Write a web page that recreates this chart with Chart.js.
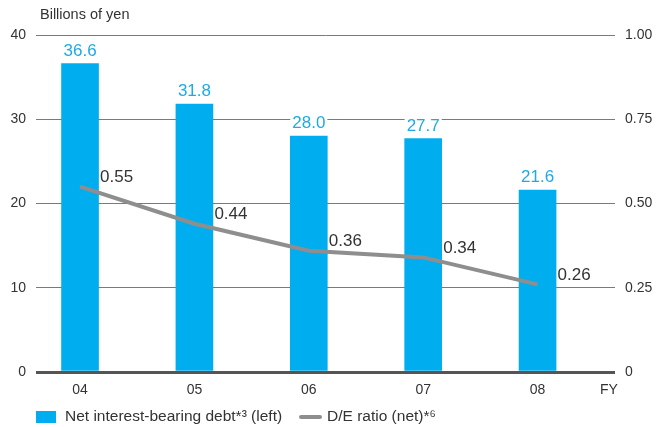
<!DOCTYPE html>
<html>
<head>
<meta charset="utf-8">
<script src="https://cdn.jsdelivr.net/npm/chart.js@4.4.0/dist/chart.umd.min.js"></script>
<style>
  html, body { margin: 0; padding: 0; background: #fff; }
  #wrap { width: 668px; height: 427px; position: relative; }
</style>
</head>
<body>
<div id="wrap"><canvas id="debtChart"></canvas></div>
<script>
// Fiscal years and values
const years = ['04', '05', '06', '07', '08'];
const netDebt = [36.6, 31.8, 28.0, 27.7, 21.6];   // billions of yen (left)
const deRatio = [0.55, 0.44, 0.36, 0.34, 0.26];   // D/E ratio (right)
const leftTicks = [0, 10, 20, 30, 40];
const rightTicks = [0, 0.25, 0.5, 0.75, 1.0];

const FONT = '"Liberation Sans", Arial, sans-serif';
const BLUE = '#00aeef';
const GREY = '#8e8e8e';

// value labels above bars and beside line points, plus unit text and legend
const annotate = {
    id: 'annotate',
    afterDatasetsDraw(chart) {
        const ctx = chart.ctx;
        const area = chart.chartArea;
        ctx.save();

        // bar values
        ctx.font = '17px ' + FONT;
        ctx.textAlign = 'center';
        ctx.textBaseline = 'bottom';
        chart.getDatasetMeta(0).data.forEach((bar, i) => {
            const txt = netDebt[i].toFixed(1);
            const w = ctx.measureText(txt).width;
            ctx.fillStyle = '#fff';
            ctx.fillRect(bar.x - w / 2 - 2, bar.y - 21, w + 4, 18);
            ctx.fillStyle = '#1fa9e6';
            ctx.fillText(txt, bar.x, bar.y - 4);
        });

        // ratio values
        ctx.textAlign = 'left';
        ctx.textBaseline = 'middle';
        ctx.fillStyle = '#333';
        chart.getDatasetMeta(1).data.forEach((pt, i) => {
            ctx.fillText(deRatio[i].toFixed(2), pt.x + 20, pt.y - 9);
        });

        // unit
        ctx.font = '14.5px ' + FONT;
        ctx.textBaseline = 'alphabetic';
        ctx.fillText('Billions of yen', 40, 19);

        // legend
        const ly = 417;
        ctx.fillStyle = BLUE;
        ctx.fillRect(area.left, ly - 6, 20, 12);
        ctx.font = '15.5px ' + FONT;
        ctx.fillStyle = '#333';
        ctx.textBaseline = 'middle';
        ctx.fillText('Net interest-bearing debt*\u00b3 (left)', area.left + 29, ly);
        ctx.strokeStyle = GREY;
        ctx.lineWidth = 4;
        ctx.lineCap = 'round';
        ctx.beginPath();
        ctx.moveTo(301, ly);
        ctx.lineTo(320, ly);
        ctx.stroke();
        ctx.fillText('D/E ratio (net)*\u2076', 327, ly);
        ctx.restore();
    }
};

const ctx = document.getElementById('debtChart').getContext('2d');
new Chart(ctx, {
    data: {
        datasets: [
            {
                type: 'bar',
                label: 'Net interest-bearing debt*3 (left)',
                data: years.map((y, i) => ({ x: i, y: netDebt[i] })),
                backgroundColor: BLUE,
                barThickness: 37,
                yAxisID: 'y',
                order: 1
            },
            {
                type: 'line',
                label: 'D/E ratio (net)*6',
                data: years.map((y, i) => ({ x: i, y: deRatio[i] })),
                borderColor: GREY,
                borderWidth: 4,
                pointRadius: 0,
                tension: 0,
                yAxisID: 'y1',
                order: 0
            }
        ]
    },
    options: {
        responsive: true,
        maintainAspectRatio: false,
        animation: false,
        layout: { padding: { top: 35, bottom: 25 } },
        plugins: {
            legend: { display: false },
            tooltip: { enabled: false }
        },
        scales: {
            x: {
                type: 'linear',
                min: -0.385,
                max: 4.677,
                offset: false,
                grid: { display: false, offset: false },
                border: { display: false },
                afterBuildTicks(scale) {
                    scale.ticks = years.map((y, i) => ({ value: i })).concat([{ value: 4.624 }]);
                },
                ticks: {
                    autoSkip: false,
                    maxRotation: 0,
                    padding: 2,
                    color: '#333',
                    font: { family: FONT, size: 14 },
                    callback: (v, i) => i < years.length ? years[i] : 'FY'
                },
                afterFit(scale) { scale.height = 30; }
            },
            y: {
                position: 'left',
                min: 0,
                max: 40,
                afterBuildTicks(scale) {
                    scale.ticks = leftTicks.map(v => ({ value: v }));
                },
                grid: {
                    drawTicks: false,
                    color: ctx => ctx.tick.value === 0 ? '#555' : '#7a7a7a',
                    lineWidth: ctx => ctx.tick.value === 0 ? 3 : 1
                },
                border: { display: false },
                ticks: {
                    padding: 10,
                    color: '#333',
                    font: { family: FONT, size: 14 }
                },
                afterFit(scale) { scale.width = 36; }
            },
            y1: {
                position: 'right',
                min: 0,
                max: 1,
                afterBuildTicks(scale) {
                    scale.ticks = rightTicks.map(v => ({ value: v }));
                },
                grid: { display: false, drawTicks: false },
                border: { display: false },
                ticks: {
                    padding: 10,
                    color: '#333',
                    font: { family: FONT, size: 14 },
                    callback: v => v === 0 ? '0' : v.toFixed(2)
                },
                afterFit(scale) { scale.width = 53; }
            }
        }
    },
    plugins: [annotate]
});
</script>
</body>
</html>
